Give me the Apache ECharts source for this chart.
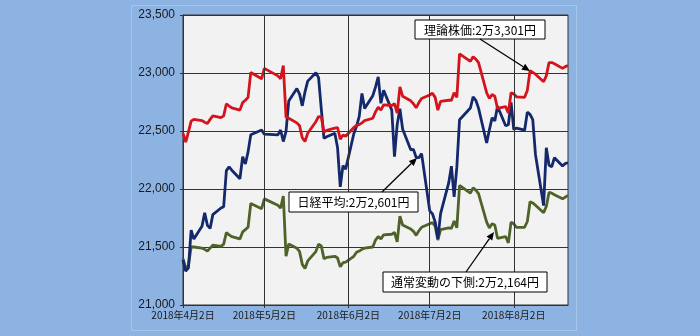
<!DOCTYPE html>
<html><head><meta charset="utf-8">
<script src="https://cdn.jsdelivr.net/npm/echarts@6.0.0/dist/echarts.min.js"></script>
<style>html,body{margin:0;padding:0;background:#8DB3E2;}#c{width:700px;height:336px;}</style>
</head><body><div id="c"></div>
<script>
// Trading days
const dates = [
'2018-04-02','2018-04-03','2018-04-04','2018-04-05','2018-04-06','2018-04-09','2018-04-10','2018-04-11','2018-04-12','2018-04-13',
'2018-04-16','2018-04-17','2018-04-18','2018-04-19','2018-04-20','2018-04-23','2018-04-24','2018-04-25','2018-04-26','2018-04-27',
'2018-05-01','2018-05-02','2018-05-07','2018-05-08','2018-05-09','2018-05-10','2018-05-11','2018-05-14','2018-05-15','2018-05-16',
'2018-05-17','2018-05-18','2018-05-21','2018-05-22','2018-05-23','2018-05-24','2018-05-25','2018-05-28','2018-05-29','2018-05-30',
'2018-05-31','2018-06-01','2018-06-04','2018-06-05','2018-06-06','2018-06-07','2018-06-08','2018-06-11','2018-06-12','2018-06-13',
'2018-06-14','2018-06-15','2018-06-18','2018-06-19','2018-06-20','2018-06-21','2018-06-22','2018-06-25','2018-06-26','2018-06-27',
'2018-06-28','2018-06-29','2018-07-02','2018-07-03','2018-07-04','2018-07-05','2018-07-06','2018-07-09','2018-07-10','2018-07-11',
'2018-07-12','2018-07-13','2018-07-17','2018-07-18','2018-07-19','2018-07-20','2018-07-23','2018-07-24','2018-07-25','2018-07-26',
'2018-07-27','2018-07-30','2018-07-31','2018-08-01','2018-08-02','2018-08-03','2018-08-06','2018-08-07','2018-08-08','2018-08-09',
'2018-08-10','2018-08-13','2018-08-14','2018-08-15','2018-08-16','2018-08-17','2018-08-20','2018-08-21','2018-08-22'
];
// 日経平均
const nikkei = [
21389,21292,21320,21645,21568,21678,21794,21687,21660,21779,
21836,21848,22158,22191,22162,22088,22278,22215,22320,22468,
22508,22473,22467,22509,22409,22497,22758,22866,22818,22717,
22838,22930,23002,22960,22690,22437,22451,22481,22358,22019,
22202,22171,22476,22540,22626,22823,22695,22804,22878,22966,
22739,22852,22680,22278,22555,22693,22517,22338,22342,22272,
22270,22305,21812,21786,21717,21570,21788,22052,22197,21932,
22188,22597,22698,22794,22765,22697,22397,22510,22614,22587,
22713,22545,22554,22747,22513,22525,22507,22663,22644,22598,
22298,21857,22356,22204,22192,22270,22199,22220,22225
];
// 理論株価
const theoretical = [
22480,22405,22490,22585,22600,22590,22575,22565,22600,22630,
22615,22630,22735,22715,22700,22680,22745,22765,22790,23005,
22950,23040,22975,22950,23065,22620,22610,22570,22545,22440,
22410,22480,22580,22625,22620,22490,22505,22525,22530,22430,
22465,22455,22530,22550,22555,22570,22590,22610,22665,22705,
22680,22725,22720,22735,22655,22880,22800,22760,22735,22700,
22745,22780,22810,22825,22790,22680,22755,22765,22765,22830,
22790,23165,23100,23140,23120,23090,22830,22780,22815,22800,
22695,22710,22655,22830,22820,22795,22790,22850,23020,23005,
22990,22925,22975,23090,23090,23080,23040,23055,23065
];
// 通常変動の下側
const lowerBand = [
21400,21315,21340,21500,21500,21490,21480,21465,21490,21515,
21505,21525,21625,21605,21590,21570,21630,21650,21670,21875,
21830,21915,21860,21835,21940,21420,21525,21490,21460,21350,
21315,21380,21460,21525,21510,21400,21410,21420,21405,21330,
21365,21370,21420,21455,21465,21480,21490,21500,21560,21590,
21570,21605,21610,21625,21545,21765,21690,21655,21635,21600,
21640,21670,21700,21710,21680,21560,21650,21665,21660,21725,
21665,22030,21965,22010,21990,21960,21715,21665,21700,21690,
21575,21590,21535,21715,21700,21670,21670,21720,21890,21880,
21860,21795,21850,21970,21965,21950,21915,21930,21945
];
const xMin = '2018-04-02';
const xMax = '2018-08-22';
const tickDates = ['2018-04-02','2018-05-02','2018-06-02','2018-07-02','2018-08-02'];
const yMin = 21000, yMax = 23500, yStep = 500;
const noteTheory = '理論株価:2万3,301円';
const noteNikkei = '日経平均:2万2,601円';
const noteLower = '通常変動の下側:2万2,164円';

// x is measured in days since xMin
function dayOf(s){ const p = s.split('-').map(Number); return Math.round((Date.UTC(p[0], p[1]-1, p[2]) - Date.UTC(2018, 3, 2)) / 86400000); }
function fmtDay(n){ const d = new Date(Date.UTC(2018, 3, 2) + n*86400000); return d.getUTCFullYear()+'年'+(d.getUTCMonth()+1)+'月'+d.getUTCDate()+'日'; }
function pairs(vals){ return dates.map((d,i)=>[dayOf(d), vals[i]]); }
const tickDays = tickDates.map(dayOf);

function box(x, y, w, h, text){
  return [
    {type:'rect', shape:{x:x, y:y, width:w, height:h}, style:{fill:'#fff', stroke:'#000', lineWidth:1}, z:100},
    {type:'text', x:x + w/2, y:y + h/2 + 0.5, style:{text:text, fill:'#000', font:'12px "Noto Sans CJK JP"', align:'center', verticalAlign:'middle'}, z:101}
  ];
}
function arrow(x1, y1, x2, y2){
  const a = Math.atan2(y2-y1, x2-x1), L = 8, W = 3.5;
  const bx = x2 - L*Math.cos(a), by = y2 - L*Math.sin(a);
  const px = -Math.sin(a)*W, py = Math.cos(a)*W;
  return [
    {type:'line', shape:{x1:x1, y1:y1, x2:bx, y2:by}, style:{stroke:'#000', lineWidth:1.3}, z:100},
    {type:'polygon', shape:{points:[[x2,y2],[bx+px,by+py],[bx-px,by-py]]}, style:{fill:'#000'}, z:100}
  ];
}

const chart = echarts.init(document.getElementById('c'));
chart.setOption({
  animation:false,
  backgroundColor:'#8DB3E2',
  grid:{left:183, right:132, top:15, bottom:31, show:true, backgroundColor:'#F2F2F2', borderColor:'#333', borderWidth:1},
  xAxis:{
    type:'value', min:dayOf(xMin), max:dayOf(xMax),
    axisLine:{show:true, lineStyle:{color:'#333', width:1}},
    axisTick:{show:true, customValues:tickDays, length:3, lineStyle:{color:'#333'}},
    axisLabel:{customValues:tickDays, margin:5, fontSize:10, color:'#1a1a1a', fontFamily:'Noto Sans CJK JP',
      formatter:function(v){ return fmtDay(v); }},
    splitLine:{show:false}
  },
  yAxis:{
    type:'value', min:yMin, max:yMax, interval:yStep,
    axisLine:{show:true, lineStyle:{color:'#333', width:1}},
    axisTick:{show:true, length:3, lineStyle:{color:'#333'}},
    axisLabel:{margin:8, fontSize:12, color:'#1a1a1a', fontFamily:'Liberation Sans',
      formatter:function(v){ return v.toLocaleString('en-US'); }},
    splitLine:{show:true, lineStyle:{color:'#333', width:1}}
  },
  graphic:[
    {type:'rect', shape:{x:131.5, y:5.5, width:445, height:325}, style:{fill:'none', stroke:'#a8c5ea', lineWidth:1}, z:0, silent:true},
    ...box(415, 20, 130, 19, noteTheory),
    ...arrow(480, 39, 530, 71),
    ...box(289, 192, 129, 20, noteNikkei),
    ...arrow(382, 192, 417, 158),
    ...box(383, 272, 164, 20, noteLower),
    ...arrow(466, 272, 494, 232)
  ],
  series:[
    {name:'通常変動の下側', type:'line', data:pairs(lowerBand), symbol:'none', z:3, lineStyle:{color:'#4F6228', width:2.8},
      markLine:{silent:true, symbol:['none','none'], label:{show:false}, lineStyle:{color:'#333', width:1, type:'solid'},
        data:tickDays.slice(1).map(t=>({xAxis:t}))}},
    {name:'日経平均', type:'line', data:pairs(nikkei), symbol:'none', z:3, lineStyle:{color:'#14286C', width:2.8}},
    {name:'理論株価', type:'line', data:pairs(theoretical), symbol:'none', z:3, lineStyle:{color:'#D4141C', width:2.8}}
  ]
});
</script></body></html>
